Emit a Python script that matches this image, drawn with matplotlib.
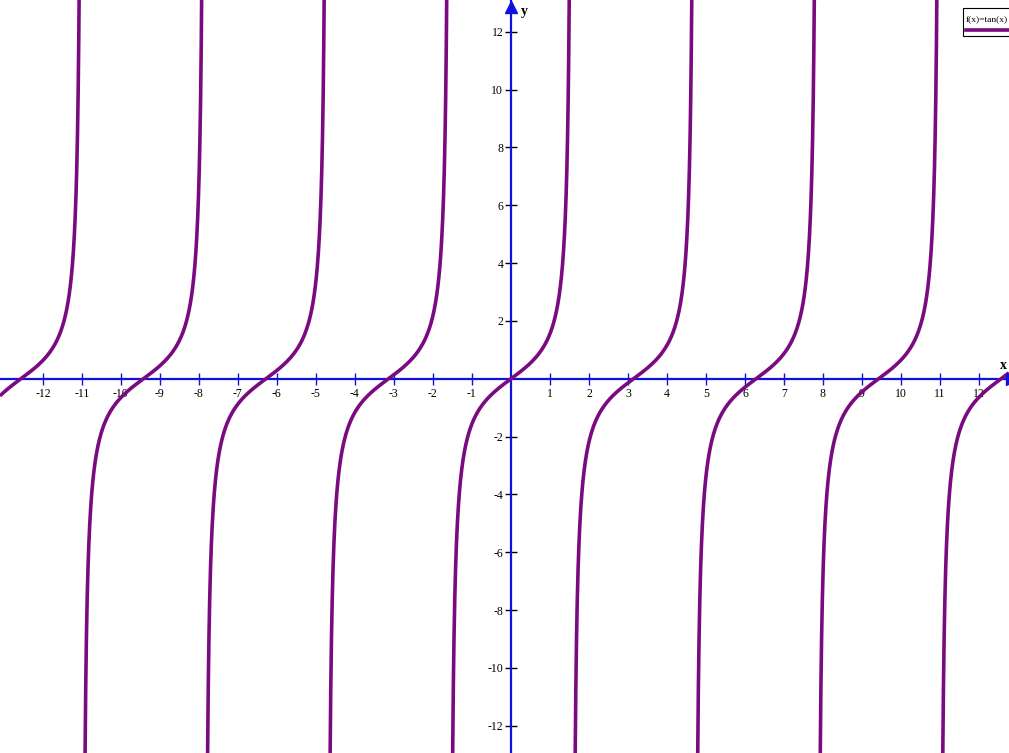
import numpy as np
import matplotlib.pyplot as plt
from matplotlib.patches import Rectangle
from matplotlib.lines import Line2D

# function plot: f(x) = tan(x) over the visible window
x_range = (-13.1, 12.77)
y_range = (-12.94, 13.1)
x_ticks = [t for t in range(-12, 13) if t != 0]
y_ticks = [t for t in range(-12, 13, 2) if t != 0]
legend_label = "f(x)=tan(x)"

curve_color = "#7a0a80"
axis_color = "#1010e0"

fig = plt.figure(figsize=(10.09, 7.53), dpi=100)
ax = fig.add_axes([0, 0, 1, 1])

# break the curve at each asymptote so no vertical joins get drawn
xs = np.linspace(x_range[0], x_range[1], 20000)
ys = np.tan(xs)
k = np.floor((xs - np.pi / 2) / np.pi)
ys[np.r_[False, np.diff(k) != 0]] = np.nan
ax.plot(xs, ys, color=curve_color, lw=2.6, solid_capstyle="butt", zorder=3)

ax.set_xlim(*x_range)
ax.set_ylim(*y_range)

for s in ["top", "right"]:
    ax.spines[s].set_visible(False)
ax.spines["left"].set_position("zero")
ax.spines["bottom"].set_position("zero")
for s in ["left", "bottom"]:
    ax.spines[s].set_color(axis_color)
    ax.spines[s].set_linewidth(1.6)
    ax.spines[s].set_zorder(2)

ax.set_xticks(x_ticks)
ax.set_yticks(y_ticks)
ax.set_xticklabels([str(t) for t in x_ticks])
ax.set_yticklabels([str(t) for t in y_ticks])
ax.tick_params(axis="both", direction="inout", length=9, width=1.0,
               colors=axis_color, labelcolor="black", labelsize=8.5)
ax.tick_params(axis="x", pad=2)
ax.tick_params(axis="y", pad=1, color="black")
for lab in ax.get_xticklabels() + ax.get_yticklabels():
    lab.set_family("Liberation Serif")

# arrows at the axis ends
ax.plot(0, 12.85, marker="^", color=axis_color, ms=8, clip_on=False, zorder=4)
ax.plot(12.85, 0, marker=">", color=axis_color, ms=8, clip_on=False, zorder=4)
ax.text(0.25, 12.7, "y", family="Liberation Serif", fontsize=10,
        fontweight="bold", ha="left", va="center")
ax.text(12.55, 0.25, "x", family="Liberation Serif", fontsize=10,
        fontweight="bold", ha="left", va="bottom")

# legend box in the top right corner
W, H = 1009, 753
ax.add_patch(Rectangle((963 / W, 1 - 36 / H), 60 / W, 28 / H,
                       transform=ax.transAxes, facecolor="white",
                       edgecolor="black", lw=0.8, clip_on=False, zorder=5))
ax.text(966 / W, 1 - 20 / H, legend_label, transform=ax.transAxes,
        family="Liberation Serif", fontsize=6.8, ha="left", va="center", zorder=6)
ax.add_line(Line2D([966 / W, 1.0], [1 - 30 / H, 1 - 30 / H],
                   transform=ax.transAxes, color=curve_color, lw=2.6, zorder=6))

fig.savefig("out.png", dpi=100)
